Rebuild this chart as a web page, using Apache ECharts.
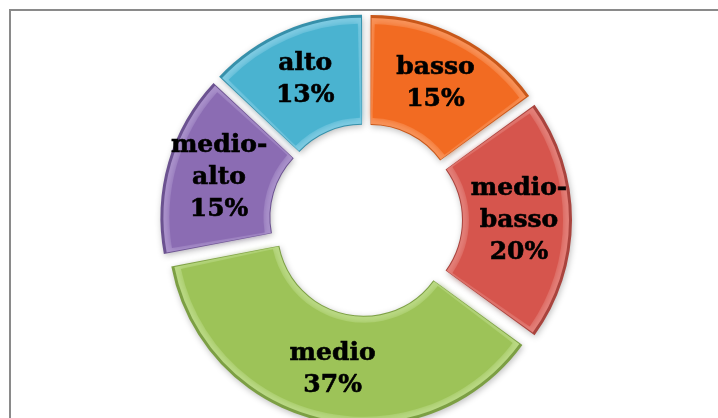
<!DOCTYPE html>
<html>
<head>
<meta charset="utf-8">
<script src="https://cdn.jsdelivr.net/npm/echarts@6/dist/echarts.min.js"></script>
<style>
  html, body { margin: 0; padding: 0; background: #fff; }
  #chart { width: 718px; height: 418px; }
</style>
</head>
<body>
<div id="chart"></div>
<script>
// Income bands, clockwise from 12 o'clock
const categories = ['basso', 'medio-basso', 'medio', 'medio-alto', 'alto'];
const shares = [15, 20, 37, 15, 13];
const faceColors = ['#F26B22', '#D6554D', '#9DC358', '#8B6CB3', '#4AB3D0'];
const rimColors = ['#F8935A', '#E3817A', '#BAD985', '#AA92CB', '#7FCBE2'];
const shadeColors = ['#C8581A', '#A9443E', '#7C9F44', '#6B5290', '#3790AA'];

const chart = echarts.init(document.getElementById('chart'));

const CX = 366, CY = 220;
const OFFSET = 10;

function slices(colors, withLabel) {
  return categories.map((name, i) => ({
    name: name,
    value: shares[i],
    selected: true,
    itemStyle: { color: colors[i], shadowColor: withLabel ? colors[i] : 'rgba(0,0,0,0.25)' },
    label: { show: withLabel }
  }));
}

const common = {
  type: 'pie',
  center: [CX, CY],
  startAngle: 90,
  clockwise: true,
  selectedMode: 'multiple',
  selectedOffset: OFFSET,
  avoidLabelOverlap: false,
  silent: true,
  animation: false,
  labelLine: { show: false },
  emphasis: { disabled: true },
  select: { itemStyle: { borderWidth: 0 } }
};

chart.setOption({
  backgroundColor: '#ffffff',
  graphic: [{
    type: 'rect',
    shape: { x: 10, y: 10, width: 760, height: 460 },
    style: { fill: 'none', stroke: '#8a8a8a', lineWidth: 2 },
    silent: true,
    z: 100
  }],
  series: [
    // outer body with soft drop shadow
    Object.assign({}, common, {
      radius: [86, 196],
      data: slices(shadeColors, false),
      label: { show: false },
      itemStyle: { shadowBlur: 6, shadowOffsetX: 1, shadowOffsetY: 2 },
      z: 1
    }),
    // light bevel rim
    Object.assign({}, common, {
      radius: [87, 193],
      padAngle: 0.6,
      data: slices(rimColors, false),
      label: { show: false },
      z: 2
    }),
    // slice face, edge blurred into the rim
    Object.assign({}, common, {
      radius: [93, 187],
      padAngle: 2.6,
      data: slices(faceColors, true),
      itemStyle: { shadowBlur: 6 },
      label: {
        position: 'inside',
        color: '#000',
        fontFamily: '"DejaVu Serif", Georgia, serif',
        fontWeight: 'bold',
        fontSize: 25,
        lineHeight: 32,
        textBorderColor: '#000',
        textBorderWidth: 0.6,
        formatter: p => p.name.replace('-', '-\n') + '\n' + Math.round(p.percent) + '%'
      },
      z: 3
    })
  ]
});
</script>
</body>
</html>
